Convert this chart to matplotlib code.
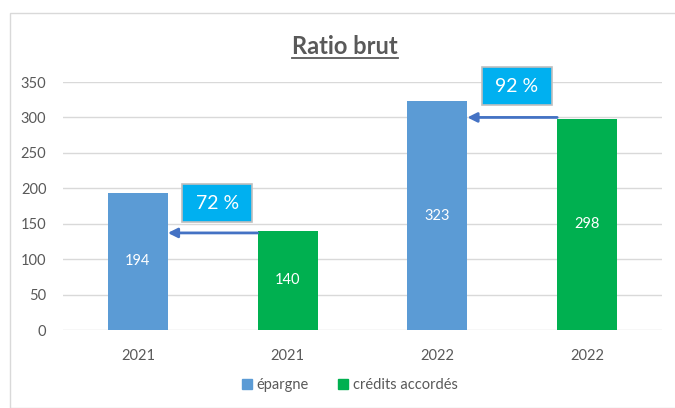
import matplotlib
matplotlib.use("Agg")
import matplotlib.pyplot as plt
from matplotlib.patches import Rectangle
from matplotlib.lines import Line2D

plt.rcParams['font.family'] = ['Lato', 'DejaVu Sans']

categories = ["2021", "2021", "2022", "2022"]
values = [194, 140, 323, 298]
series = ["épargne", "crédits accordés", "épargne", "crédits accordés"]
legend_labels = ["épargne", "crédits accordés"]
ratios = ["72 %", "92 %"]
arrow_levels = [137, 300]
box_centers_y = [179, 344]

BLUE = "#5B9BD5"
GREEN = "#00B050"
colors = {"épargne": BLUE, "crédits accordés": GREEN}
GREY = "#595959"

W, H = 675, 408
fig = plt.figure(figsize=(W / 100, H / 100), dpi=100)

# outer frame
fig.patches.append(Rectangle((10 / W, 0), 1.2, 1 - 13 / H, transform=fig.transFigure,
                             fill=False, edgecolor="#D9D9D9", linewidth=1.0))

ax = fig.add_axes([63 / W, 78 / H, 599 / W, 248 / H])
x = list(range(len(categories)))
bw = 0.4
bars = ax.bar(x, values, width=bw, color=[colors[s] for s in series], zorder=2)
for xi, v in zip(x, values):
    ax.text(xi, v / 2, str(v), color="white", ha="center", va="center", fontsize=10.5, zorder=3)

ax.set_xlim(-0.5, 3.5)
ax.set_ylim(0, 350)
ax.set_yticks(range(0, 351, 50))
ax.set_xticks(x)
ax.set_xticklabels(categories)
ax.tick_params(axis="both", length=0, colors=GREY, labelsize=10.5)
ax.tick_params(axis="x", pad=14)
ax.tick_params(axis="y", pad=12)
ax.grid(axis="y", color="#D9D9D9", linewidth=1.0, zorder=0)
for s in ax.spines.values():
    s.set_visible(False)

# data units per pixel
px_x = 4.0 / 599
px_y = 350 / 248
for k in range(2):
    i0 = 2 * k
    ax.annotate("", xy=(i0 + bw / 2, arrow_levels[k]), xytext=(i0 + 1 - bw / 2, arrow_levels[k]),
                arrowprops=dict(arrowstyle="-|>", color="#4472C4", lw=2, mutation_scale=14,
                                shrinkA=0, shrinkB=0), zorder=4)
    cx = i0 + 0.53
    cy = box_centers_y[k]
    bwid = 70 * px_x
    bh = 38 * px_y
    ax.add_patch(Rectangle((cx - bwid / 2, cy - bh / 2), bwid, bh, facecolor="#00B0F0",
                           edgecolor="#BFBFBF", linewidth=1.2, zorder=5, clip_on=False))
    ax.text(cx, cy, ratios[k], color="white", ha="center", va="center", fontsize=14, zorder=6)

# title
t = fig.text(345 / W, 1 - 47 / H, "Ratio brut", ha="center", va="center", fontsize=17,
             fontweight="bold", color=GREY)
fig.canvas.draw()
bb = t.get_window_extent().transformed(fig.transFigure.inverted())
fig.add_artist(Line2D([bb.x0, bb.x1], [bb.y0 + 1 / H, bb.y0 + 1 / H], color=GREY, linewidth=1.3,
                      transform=fig.transFigure))

# legend
handles = [Rectangle((0, 0), 1, 1, color=colors[l]) for l in legend_labels]
fig.legend(handles, legend_labels, loc="center", bbox_to_anchor=(350 / W, 1 - 385 / H), ncol=2,
           frameon=False, fontsize=10.5, handlelength=0.7, handleheight=0.7, handletextpad=0.3,
           columnspacing=2.0, labelcolor=GREY)

fig.savefig("out.png", dpi=100)
